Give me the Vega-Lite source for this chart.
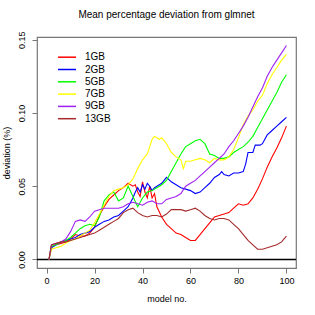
{
  "$schema": "https://vega.github.io/schema/vega-lite/v6.json",
  "width": 259,
  "height": 231,
  "autosize": {"type": "none"},
  "padding": {"left": 37, "top": 37, "right": 19, "bottom": 47},
  "background": "white",
  "title": {"text": "Mean percentage deviation from glmnet", "fontSize": 10, "fontWeight": "normal", "font": "Liberation Sans", "color": "black", "anchor": "middle", "offset": 11},
  "config": {
    "view": {"stroke": "#777777", "strokeWidth": 1.2},
    "axis": {"labelFont": "Liberation Sans", "titleFont": "Liberation Sans", "labelFontSize": 9, "titleFontSize": 9, "titleFontWeight": "normal", "labelColor": "black", "titleColor": "black", "tickColor": "#777777", "tickSize": 5, "domain": false, "grid": false}
  },
  "layer": [
    {
      "data": {"values": [{"y": 0}]},
      "mark": {"type": "rule", "color": "black", "strokeWidth": 1.5},
      "encoding": {"y": {"field": "y", "type": "quantitative", "scale": {"domain": [-0.0058, 0.1518], "nice": false, "zero": false}}}
    },
    {
      "data": {"values": [
{"m":1,"s":"1GB","v":0},{"m":2,"s":"1GB","v":0.009},{"m":4,"s":"1GB","v":0.010},{"m":6,"s":"1GB","v":0.011},{"m":8,"s":"1GB","v":0.012},{"m":10,"s":"1GB","v":0.014},{"m":12,"s":"1GB","v":0.017},{"m":14,"s":"1GB","v":0.016},{"m":16,"s":"1GB","v":0.016},{"m":18,"s":"1GB","v":0.018},{"m":20,"s":"1GB","v":0.022},{"m":22,"s":"1GB","v":0.030},{"m":24,"s":"1GB","v":0.036},{"m":26,"s":"1GB","v":0.041},{"m":28,"s":"1GB","v":0.044},{"m":30,"s":"1GB","v":0.047},{"m":32,"s":"1GB","v":0.049},{"m":34,"s":"1GB","v":0.052},{"m":36,"s":"1GB","v":0.050},{"m":37,"s":"1GB","v":0.051},{"m":38,"s":"1GB","v":0.046},{"m":39,"s":"1GB","v":0.043},{"m":40,"s":"1GB","v":0.053},{"m":41,"s":"1GB","v":0.046},{"m":42,"s":"1GB","v":0.042},{"m":43,"s":"1GB","v":0.050},{"m":44,"s":"1GB","v":0.042},{"m":45,"s":"1GB","v":0.045},{"m":46,"s":"1GB","v":0.036},{"m":48,"s":"1GB","v":0.029},{"m":50,"s":"1GB","v":0.024},{"m":52,"s":"1GB","v":0.021},{"m":54,"s":"1GB","v":0.018},{"m":56,"s":"1GB","v":0.017},{"m":58,"s":"1GB","v":0.015},{"m":60,"s":"1GB","v":0.013},{"m":62,"s":"1GB","v":0.013},{"m":64,"s":"1GB","v":0.017},{"m":66,"s":"1GB","v":0.021},{"m":68,"s":"1GB","v":0.025},{"m":70,"s":"1GB","v":0.029},{"m":72,"s":"1GB","v":0.030},{"m":74,"s":"1GB","v":0.031},{"m":76,"s":"1GB","v":0.032},{"m":78,"s":"1GB","v":0.035},{"m":80,"s":"1GB","v":0.038},{"m":82,"s":"1GB","v":0.037},{"m":84,"s":"1GB","v":0.038},{"m":86,"s":"1GB","v":0.042},{"m":88,"s":"1GB","v":0.048},{"m":90,"s":"1GB","v":0.055},{"m":92,"s":"1GB","v":0.063},{"m":94,"s":"1GB","v":0.070},{"m":96,"s":"1GB","v":0.076},{"m":98,"s":"1GB","v":0.083},{"m":100,"s":"1GB","v":0.091},
{"m":1,"s":"2GB","v":0},{"m":2,"s":"2GB","v":0.008},{"m":4,"s":"2GB","v":0.010},{"m":6,"s":"2GB","v":0.012},{"m":8,"s":"2GB","v":0.013},{"m":10,"s":"2GB","v":0.014},{"m":12,"s":"2GB","v":0.015},{"m":14,"s":"2GB","v":0.017},{"m":16,"s":"2GB","v":0.018},{"m":18,"s":"2GB","v":0.019},{"m":20,"s":"2GB","v":0.022},{"m":22,"s":"2GB","v":0.024},{"m":24,"s":"2GB","v":0.026},{"m":26,"s":"2GB","v":0.027},{"m":28,"s":"2GB","v":0.029},{"m":30,"s":"2GB","v":0.030},{"m":32,"s":"2GB","v":0.033},{"m":34,"s":"2GB","v":0.036},{"m":36,"s":"2GB","v":0.042},{"m":37,"s":"2GB","v":0.046},{"m":38,"s":"2GB","v":0.049},{"m":39,"s":"2GB","v":0.046},{"m":40,"s":"2GB","v":0.051},{"m":41,"s":"2GB","v":0.048},{"m":42,"s":"2GB","v":0.052},{"m":43,"s":"2GB","v":0.050},{"m":44,"s":"2GB","v":0.047},{"m":45,"s":"2GB","v":0.049},{"m":46,"s":"2GB","v":0.050},{"m":48,"s":"2GB","v":0.052},{"m":50,"s":"2GB","v":0.056},{"m":52,"s":"2GB","v":0.053},{"m":54,"s":"2GB","v":0.051},{"m":56,"s":"2GB","v":0.049},{"m":58,"s":"2GB","v":0.048},{"m":60,"s":"2GB","v":0.047},{"m":62,"s":"2GB","v":0.045},{"m":64,"s":"2GB","v":0.046},{"m":66,"s":"2GB","v":0.049},{"m":68,"s":"2GB","v":0.052},{"m":70,"s":"2GB","v":0.056},{"m":72,"s":"2GB","v":0.058},{"m":73,"s":"2GB","v":0.060},{"m":74,"s":"2GB","v":0.058},{"m":76,"s":"2GB","v":0.057},{"m":78,"s":"2GB","v":0.059},{"m":80,"s":"2GB","v":0.059},{"m":82,"s":"2GB","v":0.060},{"m":83,"s":"2GB","v":0.065},{"m":84,"s":"2GB","v":0.073},{"m":86,"s":"2GB","v":0.073},{"m":87,"s":"2GB","v":0.078},{"m":89,"s":"2GB","v":0.078},{"m":90,"s":"2GB","v":0.079},{"m":92,"s":"2GB","v":0.085},{"m":94,"s":"2GB","v":0.088},{"m":96,"s":"2GB","v":0.091},{"m":98,"s":"2GB","v":0.094},{"m":100,"s":"2GB","v":0.097},
{"m":1,"s":"5GB","v":0},{"m":2,"s":"5GB","v":0.009},{"m":4,"s":"5GB","v":0.010},{"m":6,"s":"5GB","v":0.012},{"m":8,"s":"5GB","v":0.013},{"m":10,"s":"5GB","v":0.015},{"m":12,"s":"5GB","v":0.018},{"m":14,"s":"5GB","v":0.021},{"m":16,"s":"5GB","v":0.023},{"m":18,"s":"5GB","v":0.024},{"m":20,"s":"5GB","v":0.023},{"m":22,"s":"5GB","v":0.029},{"m":24,"s":"5GB","v":0.040},{"m":26,"s":"5GB","v":0.044},{"m":28,"s":"5GB","v":0.046},{"m":30,"s":"5GB","v":0.040},{"m":32,"s":"5GB","v":0.042},{"m":34,"s":"5GB","v":0.050},{"m":36,"s":"5GB","v":0.043},{"m":38,"s":"5GB","v":0.036},{"m":40,"s":"5GB","v":0.042},{"m":42,"s":"5GB","v":0.046},{"m":44,"s":"5GB","v":0.047},{"m":46,"s":"5GB","v":0.049},{"m":48,"s":"5GB","v":0.051},{"m":50,"s":"5GB","v":0.054},{"m":52,"s":"5GB","v":0.060},{"m":54,"s":"5GB","v":0.066},{"m":56,"s":"5GB","v":0.072},{"m":58,"s":"5GB","v":0.077},{"m":60,"s":"5GB","v":0.079},{"m":62,"s":"5GB","v":0.081},{"m":64,"s":"5GB","v":0.082},{"m":66,"s":"5GB","v":0.079},{"m":68,"s":"5GB","v":0.072},{"m":70,"s":"5GB","v":0.071},{"m":72,"s":"5GB","v":0.069},{"m":74,"s":"5GB","v":0.069},{"m":76,"s":"5GB","v":0.070},{"m":78,"s":"5GB","v":0.073},{"m":80,"s":"5GB","v":0.075},{"m":82,"s":"5GB","v":0.077},{"m":84,"s":"5GB","v":0.080},{"m":86,"s":"5GB","v":0.084},{"m":88,"s":"5GB","v":0.090},{"m":90,"s":"5GB","v":0.096},{"m":92,"s":"5GB","v":0.102},{"m":94,"s":"5GB","v":0.108},{"m":96,"s":"5GB","v":0.114},{"m":98,"s":"5GB","v":0.121},{"m":100,"s":"5GB","v":0.126},
{"m":1,"s":"7GB","v":0},{"m":2,"s":"7GB","v":0.007},{"m":4,"s":"7GB","v":0.008},{"m":6,"s":"7GB","v":0.009},{"m":8,"s":"7GB","v":0.011},{"m":10,"s":"7GB","v":0.013},{"m":12,"s":"7GB","v":0.014},{"m":14,"s":"7GB","v":0.016},{"m":16,"s":"7GB","v":0.018},{"m":18,"s":"7GB","v":0.020},{"m":20,"s":"7GB","v":0.025},{"m":22,"s":"7GB","v":0.031},{"m":24,"s":"7GB","v":0.037},{"m":26,"s":"7GB","v":0.043},{"m":28,"s":"7GB","v":0.047},{"m":30,"s":"7GB","v":0.048},{"m":32,"s":"7GB","v":0.049},{"m":34,"s":"7GB","v":0.051},{"m":36,"s":"7GB","v":0.055},{"m":38,"s":"7GB","v":0.062},{"m":40,"s":"7GB","v":0.068},{"m":42,"s":"7GB","v":0.072},{"m":44,"s":"7GB","v":0.082},{"m":45,"s":"7GB","v":0.084},{"m":46,"s":"7GB","v":0.083},{"m":47,"s":"7GB","v":0.082},{"m":48,"s":"7GB","v":0.083},{"m":50,"s":"7GB","v":0.079},{"m":52,"s":"7GB","v":0.073},{"m":54,"s":"7GB","v":0.070},{"m":56,"s":"7GB","v":0.068},{"m":57,"s":"7GB","v":0.062},{"m":58,"s":"7GB","v":0.067},{"m":60,"s":"7GB","v":0.067},{"m":62,"s":"7GB","v":0.068},{"m":64,"s":"7GB","v":0.069},{"m":66,"s":"7GB","v":0.068},{"m":68,"s":"7GB","v":0.066},{"m":70,"s":"7GB","v":0.069},{"m":72,"s":"7GB","v":0.068},{"m":74,"s":"7GB","v":0.068},{"m":76,"s":"7GB","v":0.070},{"m":78,"s":"7GB","v":0.075},{"m":80,"s":"7GB","v":0.083},{"m":82,"s":"7GB","v":0.092},{"m":84,"s":"7GB","v":0.098},{"m":86,"s":"7GB","v":0.102},{"m":88,"s":"7GB","v":0.108},{"m":90,"s":"7GB","v":0.112},{"m":92,"s":"7GB","v":0.120},{"m":94,"s":"7GB","v":0.126},{"m":96,"s":"7GB","v":0.131},{"m":98,"s":"7GB","v":0.136},{"m":100,"s":"7GB","v":0.140},
{"m":1,"s":"9GB","v":0},{"m":2,"s":"9GB","v":0.010},{"m":4,"s":"9GB","v":0.011},{"m":6,"s":"9GB","v":0.012},{"m":8,"s":"9GB","v":0.014},{"m":10,"s":"9GB","v":0.019},{"m":12,"s":"9GB","v":0.026},{"m":14,"s":"9GB","v":0.027},{"m":16,"s":"9GB","v":0.026},{"m":18,"s":"9GB","v":0.029},{"m":20,"s":"9GB","v":0.033},{"m":22,"s":"9GB","v":0.034},{"m":24,"s":"9GB","v":0.035},{"m":26,"s":"9GB","v":0.035},{"m":28,"s":"9GB","v":0.035},{"m":30,"s":"9GB","v":0.035},{"m":32,"s":"9GB","v":0.036},{"m":34,"s":"9GB","v":0.038},{"m":36,"s":"9GB","v":0.039},{"m":38,"s":"9GB","v":0.038},{"m":40,"s":"9GB","v":0.037},{"m":42,"s":"9GB","v":0.039},{"m":44,"s":"9GB","v":0.040},{"m":46,"s":"9GB","v":0.038},{"m":48,"s":"9GB","v":0.038},{"m":50,"s":"9GB","v":0.041},{"m":52,"s":"9GB","v":0.042},{"m":54,"s":"9GB","v":0.043},{"m":56,"s":"9GB","v":0.045},{"m":58,"s":"9GB","v":0.050},{"m":60,"s":"9GB","v":0.052},{"m":62,"s":"9GB","v":0.054},{"m":64,"s":"9GB","v":0.057},{"m":66,"s":"9GB","v":0.060},{"m":68,"s":"9GB","v":0.063},{"m":70,"s":"9GB","v":0.066},{"m":72,"s":"9GB","v":0.069},{"m":74,"s":"9GB","v":0.072},{"m":76,"s":"9GB","v":0.077},{"m":78,"s":"9GB","v":0.081},{"m":80,"s":"9GB","v":0.086},{"m":82,"s":"9GB","v":0.091},{"m":84,"s":"9GB","v":0.097},{"m":86,"s":"9GB","v":0.104},{"m":88,"s":"9GB","v":0.111},{"m":90,"s":"9GB","v":0.117},{"m":92,"s":"9GB","v":0.125},{"m":94,"s":"9GB","v":0.131},{"m":96,"s":"9GB","v":0.136},{"m":98,"s":"9GB","v":0.141},{"m":100,"s":"9GB","v":0.146},
{"m":1,"s":"13GB","v":0},{"m":2,"s":"13GB","v":0.010},{"m":4,"s":"13GB","v":0.011},{"m":6,"s":"13GB","v":0.012},{"m":8,"s":"13GB","v":0.012},{"m":10,"s":"13GB","v":0.013},{"m":12,"s":"13GB","v":0.014},{"m":14,"s":"13GB","v":0.015},{"m":16,"s":"13GB","v":0.016},{"m":18,"s":"13GB","v":0.017},{"m":20,"s":"13GB","v":0.018},{"m":22,"s":"13GB","v":0.020},{"m":24,"s":"13GB","v":0.022},{"m":26,"s":"13GB","v":0.024},{"m":28,"s":"13GB","v":0.026},{"m":30,"s":"13GB","v":0.028},{"m":32,"s":"13GB","v":0.032},{"m":34,"s":"13GB","v":0.034},{"m":36,"s":"13GB","v":0.035},{"m":38,"s":"13GB","v":0.032},{"m":40,"s":"13GB","v":0.030},{"m":42,"s":"13GB","v":0.029},{"m":44,"s":"13GB","v":0.030},{"m":46,"s":"13GB","v":0.030},{"m":48,"s":"13GB","v":0.029},{"m":50,"s":"13GB","v":0.031},{"m":52,"s":"13GB","v":0.034},{"m":54,"s":"13GB","v":0.034},{"m":56,"s":"13GB","v":0.034},{"m":58,"s":"13GB","v":0.033},{"m":60,"s":"13GB","v":0.034},{"m":62,"s":"13GB","v":0.035},{"m":64,"s":"13GB","v":0.033},{"m":66,"s":"13GB","v":0.030},{"m":68,"s":"13GB","v":0.028},{"m":70,"s":"13GB","v":0.027},{"m":72,"s":"13GB","v":0.028},{"m":74,"s":"13GB","v":0.028},{"m":76,"s":"13GB","v":0.027},{"m":78,"s":"13GB","v":0.024},{"m":80,"s":"13GB","v":0.021},{"m":82,"s":"13GB","v":0.017},{"m":84,"s":"13GB","v":0.013},{"m":86,"s":"13GB","v":0.010},{"m":88,"s":"13GB","v":0.007},{"m":90,"s":"13GB","v":0.007},{"m":92,"s":"13GB","v":0.008},{"m":94,"s":"13GB","v":0.009},{"m":96,"s":"13GB","v":0.010},{"m":98,"s":"13GB","v":0.012},{"m":100,"s":"13GB","v":0.016}
      ]},
      "mark": {"type": "line", "strokeWidth": 1.1, "clip": true},
      "encoding": {
        "x": {"field": "m", "type": "quantitative", "title": "model no.", "scale": {"domain": [-4, 104], "nice": false, "zero": false},
              "axis": {"values": [0, 20, 40, 60, 80, 100], "labelPadding": 3, "titlePadding": 9}},
        "y": {"field": "v", "type": "quantitative", "title": "deviation (%)", "scale": {"domain": [-0.0058, 0.1518], "nice": false, "zero": false},
              "axis": {"values": [0, 0.05, 0.1, 0.15], "format": ".2f", "labelAngle": -90, "labelAlign": "center", "labelBaseline": "bottom", "labelPadding": 6, "titlePadding": 6}},
        "color": {"field": "s", "type": "nominal", "title": null,
                  "scale": {"domain": ["1GB", "2GB", "5GB", "7GB", "9GB", "13GB"], "range": ["#FF0000", "#0000FF", "#00FF00", "#FFFF00", "#A020F0", "#A52A2A"]},
                  "legend": {"orient": "none", "legendX": 24.5, "legendY": 14.7, "padding": 0, "symbolType": "M-2,0H2", "symbolSize": 81, "symbolStrokeWidth": 1.5, "labelFont": "Liberation Sans", "labelFontSize": 10, "labelColor": "black", "labelOffset": 12.5, "rowPadding": 1.3}}
      }
    }
  ]
}
